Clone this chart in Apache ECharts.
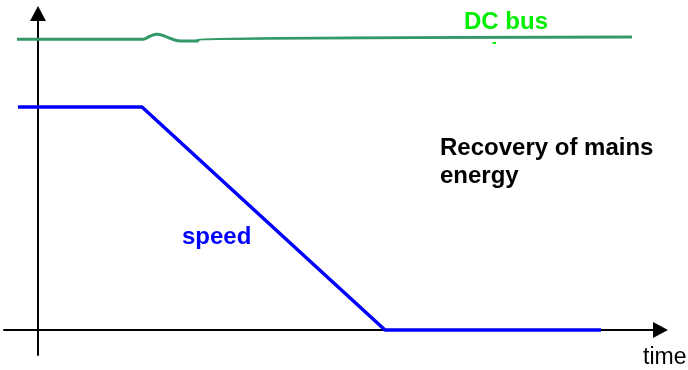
<!DOCTYPE html>
<html>
<head>
<meta charset="utf-8">
<script src="https://cdn.jsdelivr.net/npm/echarts@6/dist/echarts.min.js"></script>
<style>
  html, body { margin: 0; padding: 0; background: #ffffff; }
  #chart { width: 688px; height: 370px; }
</style>
</head>
<body>
<div id="chart"></div>
<script>
// Time axis (arbitrary units) and the two curves of the braking sketch.
const timeRange = [-3.4, 62.25];
const levelRange = [-11.2, 141.9];

// Motor speed: constant, ramp down to standstill, then zero.
const speedTime = [-2.0, 10.4, 34.7, 56.3];
const speedValue = [100, 100, 0, 0];

// DC bus voltage: nearly constant with a small bump when braking begins.
const busTime = [-2.1, 10.5, 11.2, 11.9, 12.6, 13.3, 14.0, 14.7, 16.0, 16.0, 59.4];
const busValue = [130.4, 130.4, 131.7, 132.6, 131.9, 130.6, 129.7, 129.6, 129.6, 130.4, 131.4];

const labels = {
  bus: 'DC bus',
  busSub: 'voltage',
  recovery: 'Recovery of mains\nenergy',
  speed: 'speed',
  time: 'time'
};

const pair = (xs, ys) => xs.map((x, i) => [x, ys[i]]);

const boldFont = 'bold 24px "Liberation Sans", Arial, sans-serif';
const plainFont = '23px "Liberation Sans", Arial, sans-serif';

// Axis lines end at the centre of a filled triangular arrowhead.
const axisStyle = {
  show: true,
  onZero: true,
  symbol: ['none', 'triangle'],
  symbolSize: [16, 15],
  lineStyle: { color: '#000000', width: 2 }
};

const chart = echarts.init(document.getElementById('chart'), null, { renderer: 'canvas' });

chart.setOption({
  animation: false,
  backgroundColor: '#ffffff',
  grid: { left: 4, right: 27.5, top: 13.5, bottom: 15, containLabel: false },
  xAxis: {
    type: 'value',
    min: timeRange[0],
    max: timeRange[1],
    axisLine: axisStyle,
    axisTick: { show: false },
    axisLabel: { show: false },
    splitLine: { show: false }
  },
  yAxis: {
    type: 'value',
    min: levelRange[0],
    max: levelRange[1],
    axisLine: axisStyle,
    axisTick: { show: false },
    axisLabel: { show: false },
    splitLine: { show: false }
  },
  series: [
    {
      name: 'speed',
      type: 'line',
      data: pair(speedTime, speedValue),
      showSymbol: false,
      lineStyle: { color: '#0000ff', width: 3.5 },
      z: 3
    },
    {
      name: 'DC bus',
      type: 'line',
      data: pair(busTime, busValue),
      showSymbol: false,
      smooth: 0.4,
      lineStyle: { color: '#339966', width: 3 },
      z: 3
    }
  ],
  graphic: [
    { type: 'text', z: 100, style: { text: labels.bus, x: 464, y: 22, font: boldFont, fill: '#00ee00', verticalAlign: 'middle' } },
    { type: 'text', z: 100, style: { text: labels.busSub, x: 505, y: 53, font: boldFont, fill: '#00ee00', align: 'center', verticalAlign: 'middle' } },
    { type: 'rect', z: 101, shape: { x: 455, y: 44, width: 100, height: 30 }, style: { fill: '#ffffff' } },
    { type: 'text', z: 100, style: { text: labels.recovery, x: 440, y: 162, font: boldFont, lineHeight: 28, fill: '#000000', verticalAlign: 'middle' } },
    { type: 'text', z: 100, style: { text: labels.speed, x: 182, y: 237, font: boldFont, fill: '#0000ff', verticalAlign: 'middle' } },
    { type: 'text', z: 100, style: { text: labels.time, x: 643, y: 358, font: plainFont, fill: '#000000', verticalAlign: 'middle' } }
  ]
});
</script>
</body>
</html>
